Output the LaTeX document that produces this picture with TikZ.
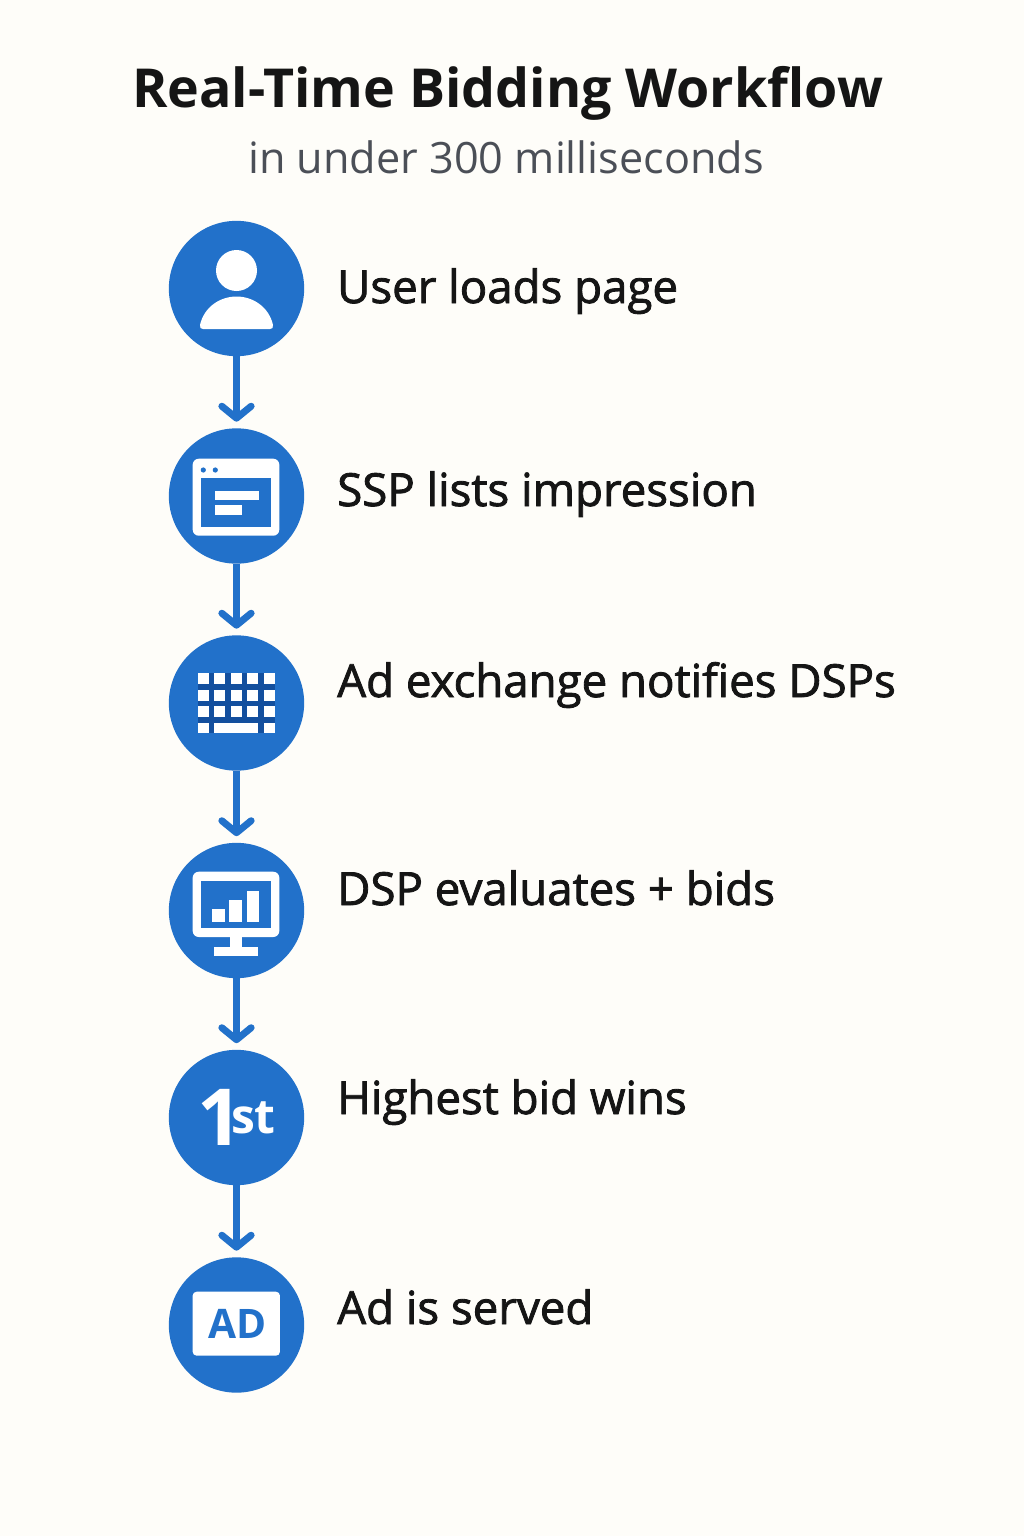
\documentclass[tikz,border=0pt]{standalone}
\usepackage{fontspec}
\setmainfont{Open Sans}
\newfontfamily\labelfont[FakeBold=1.8]{Open Sans}
\usetikzlibrary{arrows.meta}
\definecolor{pagebg}{HTML}{FEFDF9}
\definecolor{stepblue}{HTML}{2271CA}
\definecolor{keydark}{HTML}{134F9E}
\definecolor{titleink}{HTML}{151515}
\definecolor{subink}{HTML}{4B4F57}
\tikzset{
  stepnode/.style={draw=none, fill=stepblue, circle, minimum size=101.5pt, inner sep=0pt},
  steplabel/.style={anchor=base west, inner sep=0pt, text=titleink, font=\labelfont\fontsize{34.2}{36}\selectfont},
  flowline/.style={draw=stepblue, line width=5.2pt, shorten >=4.8pt, -{Straight Barb[length=9pt,width=22pt,round]}},
  iconwhite/.style={fill=white, draw=none},
  iconblue/.style={fill=stepblue, draw=none}
}
\begin{document}
\begin{tikzpicture}[x=0.75pt,y=-0.75pt]
\useasboundingbox (0,0) rectangle (1024,1536);
\fill[pagebg] (0,0) rectangle (1024,1536);
\node[anchor=base, inner sep=0pt, text=titleink, font=\fontsize{40.3}{44}\selectfont\bfseries] (title) at (507.5,107) {Real-Time Bidding Workflow};
\node[anchor=base, inner sep=0pt, text=subink, font=\fontsize{32.4}{36}\selectfont] (subtitle) at (506,173) {in under 300 milliseconds};
\node[stepnode] (user) at (236.5,288.5) {};
\node[stepnode] (ssp) at (236.5,496) {};
\node[stepnode] (exchange) at (236.5,703) {};
\node[stepnode] (dsp) at (236.5,910.5) {};
\node[stepnode] (first) at (236.5,1117.5) {};
\node[stepnode] (served) at (236.5,1325) {};
\node[steplabel] (userlabel) at (337,303) {User loads page};
\node[steplabel] (ssplabel) at (337,506) {SSP lists impression};
\node[steplabel] (exchangelabel) at (337,697) {Ad exchange notifies DSPs};
\node[steplabel] (dsplabel) at (337,905) {DSP evaluates + bids};
\node[steplabel] (firstlabel) at (337,1114) {Highest bid wins};
\node[steplabel] (servedlabel) at (337,1324) {Ad is served};
\draw[flowline] (user) -- (ssp);
\draw[flowline] (ssp) -- (exchange);
\draw[flowline] (exchange) -- (dsp);
\draw[flowline] (dsp) -- (first);
\draw[flowline] (first) -- (served);
% person
\fill[iconwhite] (236.5,270.5) circle (20.5);
\fill[iconwhite] (200,325) .. controls (204,307) and (220,296.5) .. (236.5,296.5) .. controls (253,296.5) and (269,307) .. (273,325) .. controls (273.5,328) and (272,329) .. (270,329) -- (203,329) .. controls (201,329) and (199.5,328) .. (200,325) -- cycle;
% browser window
\fill[iconwhite, rounded corners=4.5pt] (192.7,458.7) rectangle (279.3,535.7);
\fill[iconblue] (201.3,478) rectangle (271,527);
\fill[iconblue] (203.3,470) circle (2.6);
\fill[iconblue] (215.3,470) circle (2.6);
\fill[iconwhite] (214.7,490.7) rectangle (258.7,500);
\fill[iconwhite] (214.7,505.3) rectangle (241.7,515);
% keyboard
\fill[keydark] (197.7,673.3) rectangle (275,733);
\foreach \kx in {197.7,214.3,230.7,247,264}
  \foreach \ky in {673.3,689.7,706.3}
    \fill[iconwhite] (\kx,\ky) rectangle ++(11,11);
\fill[iconwhite] (197.7,722.7) rectangle ++(11,10.3);
\fill[iconwhite] (214.3,722.7) rectangle (258.3,733);
\fill[iconwhite] (264,722.7) rectangle ++(11,10.3);
% monitor
\fill[iconwhite, rounded corners=4.5pt] (192.7,871.7) rectangle (279.3,937);
\fill[iconblue] (201.3,880.7) rectangle (271,928.3);
\fill[iconwhite] (212,908.7) rectangle (224.7,922);
\fill[iconwhite] (229.3,900) rectangle (242,922);
\fill[iconwhite] (246.7,891) rectangle (258.7,922);
\fill[iconwhite] (230,936) rectangle (242,947);
\fill[iconwhite] (214,946.7) rectangle (258.3,955.7);
% first place
\node[anchor=base west, inner sep=0pt, text=white, font=\bfseries] (firstmark) at (197.5,1145) {\fontsize{59}{60}\selectfont 1\hspace{-8.7pt}\raisebox{9pt}{\fontsize{36}{40}\selectfont st}};
% ad badge
\node[fill=white, rounded corners=3pt, minimum width=65.5pt, minimum height=48pt, inner sep=0pt] (adbadge) at (236.3,1323.7) {};
\node[anchor=base, inner sep=0pt, text=stepblue, font=\fontsize{30.5}{32}\selectfont\bfseries] (adtext) at (237.5,1338) {AD};
\end{tikzpicture}
\end{document}
